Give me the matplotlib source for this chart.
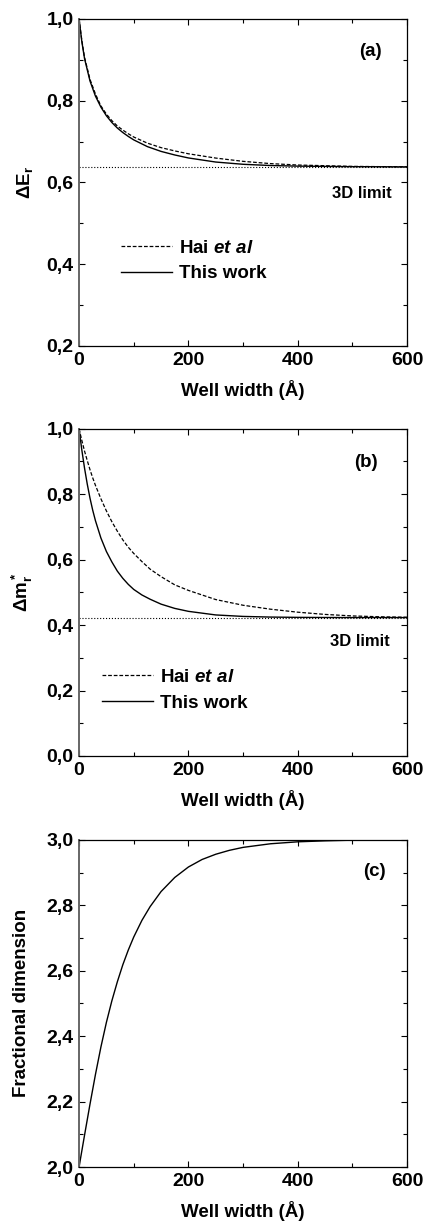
#!/usr/bin/env python3
import numpy as np
import matplotlib
matplotlib.use('Agg')
import matplotlib.pyplot as plt
from matplotlib.ticker import MultipleLocator, FuncFormatter

plt.rcParams['font.family'] = 'Liberation Sans'
plt.rcParams['font.weight'] = 'bold'
plt.rcParams['mathtext.fontset'] = 'custom'
plt.rcParams['mathtext.rm'] = 'Liberation Sans:bold'
plt.rcParams['mathtext.bf'] = 'Liberation Sans:bold'
plt.rcParams['mathtext.it'] = 'Liberation Sans:italic:bold'

#### Data

## (a) relative binding energy
width_a = [0, 5, 10, 20, 30, 40, 50, 60, 70, 80, 90, 100, 125, 150, 175, 200,
           250, 300, 350, 400, 500, 600]
dE_this = [1.000, 0.945, 0.903, 0.848, 0.811, 0.784, 0.763, 0.7465, 0.733, 0.722,
           0.7125, 0.704, 0.6875, 0.6758, 0.6671, 0.6598, 0.6498, 0.6443, 0.6413,
           0.6398, 0.6385, 0.638]
dE_hai = [1.000, 0.948, 0.906, 0.852, 0.816, 0.787, 0.767, 0.751, 0.738, 0.728,
          0.719, 0.711, 0.696, 0.685, 0.677, 0.670, 0.6595, 0.6515, 0.646, 0.6425,
          0.6392, 0.638]
dE_3d = 0.638

## (b) relative reduced mass
width_b = [0, 5, 10, 15, 20, 25, 30, 40, 50, 60, 70, 80, 90, 100, 115, 130, 150,
           175, 200, 250, 300, 350, 400, 450, 500, 550, 600]
dm_this = [1.000, 0.936, 0.880, 0.831, 0.788, 0.751, 0.719, 0.666, 0.625, 0.593,
           0.565, 0.543, 0.5245, 0.509, 0.492, 0.479, 0.464, 0.451, 0.442, 0.431,
           0.4265, 0.4245, 0.4236, 0.4232, 0.423, 0.423, 0.423]
dm_hai = [1.000, 0.965, 0.932, 0.903, 0.875, 0.850, 0.827, 0.786, 0.749, 0.716,
          0.687, 0.6605, 0.638, 0.619, 0.594, 0.571, 0.548, 0.523, 0.506, 0.478,
          0.4606, 0.4486, 0.4394, 0.4326, 0.428, 0.4254, 0.424]
dm_3d = 0.423

## (c) fractional dimension
width_c = [0, 10, 20, 30, 40, 50, 60, 70, 80, 90, 100, 115, 130, 150, 175, 200,
           225, 250, 275, 300, 350, 400, 450, 500, 600]
frac_dim = [2.000, 2.097, 2.192, 2.283, 2.367, 2.442, 2.508, 2.566, 2.618, 2.663,
            2.703, 2.754, 2.796, 2.842, 2.885, 2.917, 2.940, 2.956, 2.968, 2.977,
            2.988, 2.994, 2.997, 2.999, 3.000]

comma = FuncFormatter(lambda v, p: f'{v:.1f}'.replace('.', ','))

fig = plt.figure(figsize=(4.25, 12.3), dpi=100)
left, w, h = 0.186, 0.772, 0.266
bottoms = [0.7187, 0.3854, 0.0512]
axs = [fig.add_axes([left, b, w, h]) for b in bottoms]


def style(ax, ylo, yhi):
    ax.set_xlim(0, 600)
    ax.set_ylim(ylo, yhi)
    ax.xaxis.set_major_locator(MultipleLocator(200))
    ax.xaxis.set_minor_locator(MultipleLocator(100))
    ax.yaxis.set_major_locator(MultipleLocator(0.2))
    ax.yaxis.set_minor_locator(MultipleLocator(0.1))
    ax.yaxis.set_major_formatter(comma)
    ax.tick_params(which='both', direction='in', top=True, right=True,
                   labelsize=14)
    ax.tick_params(which='major', length=4.5, width=0.8)
    ax.tick_params(which='minor', length=3, width=0.8)
    ax.tick_params(axis='y', pad=4)
    ax.tick_params(axis='x', pad=4)
    for s in ax.spines.values():
        s.set_linewidth(0.9)
    ax.spines['left'].set_color('#666666')
    ax.spines['left'].set_linewidth(1.4)
    ax.set_xlabel('Well width (Å)', fontsize=13.5, fontweight='bold')
    ax.xaxis.set_label_coords(0.5, -0.105)
    ax.xaxis.label.set_va('top')


## (a)
ax = axs[0]
ax.plot(width_a, dE_hai, 'k--', lw=0.9, dashes=(3, 1.5), label='Hai $\\it{et\\ al}$')
ax.plot(width_a, dE_this, 'k-', lw=1.0, label='This work')
ax.axhline(dE_3d, color='k', ls=':', lw=0.8)
style(ax, 0.2, 1.0)
ax.set_ylabel(r'$\mathbf{\Delta E_r}$', fontsize=13.5)
ax.yaxis.set_label_coords(-0.133, 0.5)
ax.text(517, 0.574, '3D limit', fontsize=12, ha='center', va='center')
ax.text(532, 0.919, '(a)', fontsize=13.5, ha='center', va='center')
ax.legend(loc='upper left', bbox_to_anchor=(0.128, 0.325), frameon=False,
          fontsize=13.5, handlelength=2.7, handletextpad=0.4, labelspacing=0.45,
          borderpad=0, borderaxespad=0)

## (b)
ax = axs[1]
ax.plot(width_b, dm_hai, 'k--', lw=0.9, dashes=(3, 1.5), label='Hai $\\it{et\\ al}$')
ax.plot(width_b, dm_this, 'k-', lw=1.0, label='This work')
ax.axhline(dm_3d, color='k', ls=':', lw=0.8)
style(ax, 0.0, 1.0)
ax.set_ylabel(r'$\mathbf{\Delta m_r^*}$', fontsize=13.5)
ax.yaxis.set_label_coords(-0.133, 0.5)
ax.text(514, 0.349, '3D limit', fontsize=12, ha='center', va='center')
ax.text(524, 0.896, '(b)', fontsize=13.5, ha='center', va='center')
ax.legend(loc='upper left', bbox_to_anchor=(0.07, 0.266), frameon=False,
          fontsize=13.5, handlelength=2.7, handletextpad=0.4, labelspacing=0.45,
          borderpad=0, borderaxespad=0)

## (c)
ax = axs[2]
ax.plot(width_c, frac_dim, 'k-', lw=1.0)
style(ax, 2.0, 3.0)
ax.set_ylabel('Fractional dimension', fontsize=13.5, fontweight='bold')
ax.yaxis.set_label_coords(-0.15, 0.5)
ax.text(541, 2.902, '(c)', fontsize=13.5, ha='center', va='center')

fig.savefig('out.png', dpi=100)
